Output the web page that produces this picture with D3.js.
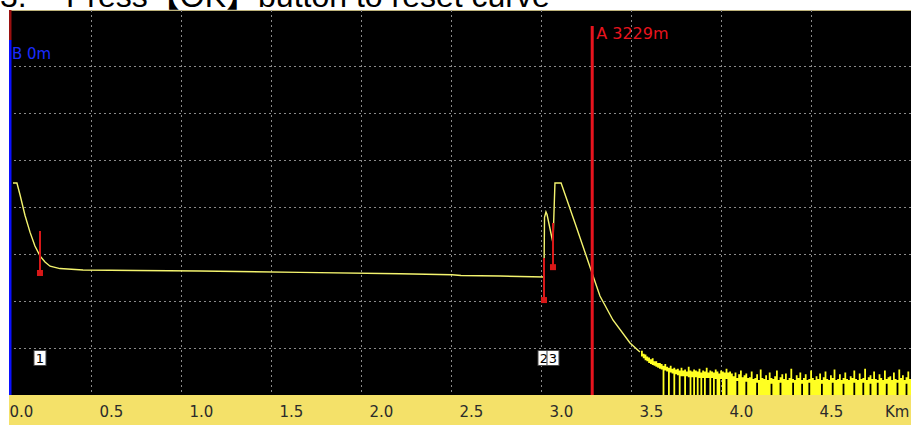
<!DOCTYPE html>
<html>
<head>
<meta charset="utf-8">
<script src="https://cdn.jsdelivr.net/npm/d3@7"></script>
<style>
  html, body { margin: 0; padding: 0; background: #ffffff; }
  svg { display: block; }
</style>
</head>
<body>
<div id="chart"></div>
<script>
// ---------- DATA ----------
const titleText = "Press【OK】button to reset curve";
const titleNum = "3.";
const xTickValues = [0.0, 0.5, 1.0, 1.5, 2.0, 2.5, 3.0, 3.5, 4.0, 4.5];
const xUnit = "Km";
const yGridValues = [5, 10, 15, 20, 25, 30, 35];

// main OTDR trace (distance km, level dB)
const traceKm = [0.011, 0.033, 0.05, 0.078, 0.106, 0.133, 0.161, 0.189, 0.217, 0.272, 0.40, 0.70, 1.05, 1.606, 2.161, 2.45, 2.50, 2.717, 2.961,
                 2.964, 2.972, 2.978, 3.011, 3.022, 3.056, 3.139, 3.228, 3.272, 3.344, 3.439, 3.494];
const traceDb = [22.55, 22.55, 21.3, 19.1, 17.3, 15.85, 14.8, 14.15, 13.7, 13.45, 13.3, 13.25, 13.19, 13.05, 12.9, 12.8, 12.72, 12.66, 12.55,
                 18.9, 19.47, 19.2, 16.17, 22.55, 22.55, 17.98, 12.98, 10.53, 7.98, 5.53, 4.57];

// noise floor: per-sample envelope (low / high, dB), from 3.50 km every 0.01 km
const noiseStartKm = 3.50;
const noiseStepKm = 0.01;
const noiseHi = [
  4.7, 4.4, 4.3, 4.1, 4.0, 3.8, 3.9, 3.6, 3.6, 3.4,
  3.4, 3.3, 3.1, 3.3, 3.0, 2.9, 3.1, 2.8, 2.9, 2.7,
  2.8, 2.6, 2.9, 2.6, 2.7, 2.5, 3.0, 2.6, 2.5, 2.7,
  2.6, 2.5, 2.8, 2.4, 2.6, 2.5, 2.9, 2.4, 2.6, 2.5,
  2.4, 2.7, 2.5, 2.3, 2.6, 2.5, 2.4, 2.8, 2.4, 2.5,
  2.3, 2.0, 2.4, 1.8, 2.2, 2.6, 1.9, 2.1, 2.3, 1.8,
  1.9, 2.5, 1.7, 1.8, 2.2, 1.6, 2.7, 1.8, 1.7, 2.1,
  1.6, 2.4, 1.8, 1.7, 2.0, 2.6, 1.6, 1.9, 2.2, 1.7,
  2.3, 1.6, 1.8, 2.8, 1.7, 1.6, 2.1, 1.8, 2.4, 1.6,
  1.8, 2.2, 1.6, 1.7, 2.6, 1.8, 1.6, 2.0, 1.7, 2.3,
  1.6, 1.9, 2.5, 1.7, 1.6, 2.1, 1.8, 2.7, 1.6, 1.7,
  2.2, 1.6, 1.8, 2.4, 1.7, 1.6, 2.0, 1.8, 2.6, 1.7,
  1.6, 2.3, 1.7, 1.8, 2.8, 1.6, 1.9, 2.1, 1.7, 2.5,
  1.7, 1.6, 2.2, 1.8, 1.6, 2.6, 1.7, 1.9, 2.0, 1.6,
  2.4, 1.7, 1.6, 2.7, 1.8, 2.1, 1.6, 1.9, 2.5, 1.7,
  1.8
];
const noiseLo = [
  4.1, 3.9, 3.7, 3.6, 3.4, 3.3, 3.2, 3.1, 3.0, 2.9,
  2.8, 2.7, 0.0, 2.6, 2.5, 0.0, 2.4, 2.3, 0.0, 2.2,
  2.1, 0.0, 2.0, 2.0, 0.0, 2.0, 1.9, 0.0, 1.9, 0.0,
  1.9, 0.0, 1.8, 0.0, 1.8, 0.0, 1.8, 1.8, 0.0, 1.8,
  0.0, 1.7, 0.0, 0.0, 1.7, 0.0, 0.0, 1.7, 0.0, 0.0,
  0.0, 0.0, 0.0, 1.5, 0.0, 0.0, 0.0, 0.0, 1.4, 0.0,
  0.0, 0.0, 0.0, 0.0, 1.3, 0.0, 0.0, 0.0, 0.0, 0.0,
  0.0, 0.0, 1.2, 0.0, 0.0, 0.0, 0.0, 1.3, 0.0, 0.0,
  0.0, 0.0, 0.0, 0.0, 1.3, 0.0, 0.0, 0.0, 0.0, 1.2,
  0.0, 0.0, 0.0, 1.3, 0.0, 0.0, 0.0, 0.0, 0.0, 0.0,
  1.2, 0.0, 0.0, 0.0, 0.0, 0.0, 1.3, 0.0, 0.0, 0.0,
  0.0, 0.0, 1.2, 0.0, 0.0, 0.0, 0.0, 0.0, 1.3, 0.0,
  0.0, 0.0, 0.0, 1.3, 0.0, 0.0, 0.0, 1.2, 0.0, 0.0,
  0.0, 1.3, 0.0, 0.0, 0.0, 0.0, 1.2, 0.0, 0.0, 0.0,
  0.0, 0.0, 1.3, 0.0, 0.0, 0.0, 0.0, 1.2, 0.0, 0.0,
  0.0
];

// events
const eventLabels = ["1", "2", "3"];
const eventKm = [0.161, 2.961, 3.011];
const eventTopDb = [17.45, 14.57, 18.3];
const eventBottomDb = [12.98, 10.1, 13.6];

// cursors
const cursorA = { label: "A 3229m", km: 3.229 };
const cursorB = { label: "B 0m", km: 0.0 };

// ---------- LAYOUT ----------
const W = 911, H = 425;
const plot = { left: 9, top: 10, right: 911, bottom: 395 };

const svg = d3.select("#chart").append("svg")
  .attr("width", W).attr("height", H)
  .style("font-family", "'DejaVu Sans', 'Liberation Sans', sans-serif");

const x = d3.scaleLinear().domain([0, 5]).range([11, 911]);
const y = d3.scaleLinear().domain([0, 35]).range([395, 66]);

// title (cut off at the top, as in the source)
svg.append("text")
  .attr("x", 0).attr("y", 7)
  .style("font-family", "'Liberation Sans', Arial, sans-serif")
  .style("font-size", "32px").attr("fill", "#000")
  .text(titleNum);
svg.append("text")
  .attr("x", 66).attr("y", 7)
  .style("font-family", "'Liberation Sans', Arial, 'Noto Sans CJK SC', sans-serif")
  .style("font-size", "32px").attr("fill", "#000")
  .text(titleText);

// plot background
svg.append("rect")
  .attr("x", plot.left).attr("y", plot.top)
  .attr("width", plot.right - plot.left).attr("height", plot.bottom - plot.top)
  .attr("fill", "#000");
svg.append("line")
  .attr("x1", plot.left).attr("x2", plot.right)
  .attr("y1", plot.top + 0.5).attr("y2", plot.top + 0.5)
  .attr("stroke", "#bdb27a").attr("stroke-width", 1);

// clip
svg.append("clipPath").attr("id", "clip")
  .append("rect")
  .attr("x", plot.left).attr("y", plot.top)
  .attr("width", plot.right - plot.left).attr("height", plot.bottom - plot.top);

const g = svg.append("g").attr("clip-path", "url(#clip)");

// grid
g.selectAll(".vgrid").data(xTickValues.filter(d => d > 0))
  .enter().append("line")
  .attr("x1", d => Math.round(x(d)) - 10 + 0.5).attr("x2", d => Math.round(x(d)) - 10 + 0.5)
  .attr("y1", plot.top).attr("y2", plot.bottom)
  .attr("stroke", "#8a8a8a").attr("stroke-width", 1)
  .attr("stroke-dasharray", "2,3");
g.selectAll(".hgrid").data(yGridValues)
  .enter().append("line")
  .attr("x1", plot.left).attr("x2", plot.right)
  .attr("y1", d => Math.round(y(d)) + 0.5).attr("y2", d => Math.round(y(d)) + 0.5)
  .attr("stroke", "#8a8a8a").attr("stroke-width", 1)
  .attr("stroke-dasharray", "2,3");

// trace
const line = d3.line().x(d => x(d[0])).y(d => y(d[1]));
const tracePts = traceKm.map((k, i) => [k, traceDb[i]]);
g.append("path")
  .datum(tracePts)
  .attr("d", line)
  .attr("fill", "none").attr("stroke", "#f4f46e").attr("stroke-width", 1.4);

// noise envelope
const noisePts = noiseHi.map((v, i) => ({ km: noiseStartKm + i * noiseStepKm, hi: v, lo: noiseLo[i] }));
const area = d3.area()
  .curve(d3.curveStepAfter)
  .x(d => x(d.km))
  .y0(d => y(d.lo))
  .y1(d => y(d.hi));
g.append("path")
  .datum(noisePts)
  .attr("d", area)
  .attr("fill", "#ffff22").attr("stroke", "none");

// event markers
eventKm.forEach((k, i) => {
  const ex = x(k);
  g.append("line")
    .attr("x1", ex).attr("x2", ex)
    .attr("y1", y(eventTopDb[i])).attr("y2", y(eventBottomDb[i]))
    .attr("stroke", "#d81818").attr("stroke-width", 2);
  g.append("rect")
    .attr("x", ex - 3).attr("y", y(eventBottomDb[i]) - 3)
    .attr("width", 6).attr("height", 6)
    .attr("fill", "#d81818");
  const bw = 12;
  g.append("rect")
    .attr("x", ex - bw / 2).attr("y", 350.5)
    .attr("width", bw).attr("height", 15)
    .attr("fill", "#ffffff").attr("stroke", "#444").attr("stroke-width", 1);
  g.append("text")
    .attr("x", ex).attr("y", 363)
    .attr("text-anchor", "middle")
    .style("font-size", "13px").attr("fill", "#000")
    .text(eventLabels[i]);
});

// cursor B (blue) with red top part
g.append("line")
  .attr("x1", x(cursorB.km) - 1).attr("x2", x(cursorB.km) - 1)
  .attr("y1", plot.top).attr("y2", 40)
  .attr("stroke", "#9a1010").attr("stroke-width", 3);
g.append("line")
  .attr("x1", x(cursorB.km) - 1).attr("x2", x(cursorB.km) - 1)
  .attr("y1", 40).attr("y2", plot.bottom)
  .attr("stroke", "#0a10ff").attr("stroke-width", 3);
g.append("text")
  .attr("x", x(cursorB.km) + 1).attr("y", 59)
  .style("font-size", "15px").attr("fill", "#1a2cff")
  .text(cursorB.label);

// cursor A (red)
g.append("line")
  .attr("x1", x(cursorA.km)).attr("x2", x(cursorA.km))
  .attr("y1", 26).attr("y2", plot.bottom)
  .attr("stroke", "#e8141e").attr("stroke-width", 3);
g.append("text")
  .attr("x", x(cursorA.km) + 4).attr("y", 39)
  .style("font-size", "16px").attr("fill", "#e8141e")
  .text(cursorA.label);

// x axis band
svg.append("rect")
  .attr("x", plot.left).attr("y", plot.bottom)
  .attr("width", W - plot.left).attr("height", H - plot.bottom)
  .attr("fill", "#f4e169");

const axis = d3.axisBottom(x)
  .tickValues(xTickValues)
  .tickFormat(d3.format(".1f"))
  .tickSize(0);
const ax = svg.append("g")
  .attr("transform", `translate(0,${plot.bottom})`)
  .call(axis);
ax.select(".domain").remove();
ax.selectAll("text")
  .attr("text-anchor", "start")
  .attr("dx", -2)
  .attr("y", 0).attr("dy", 22)
  .style("font-family", "'DejaVu Sans', sans-serif")
  .style("font-size", "15px")
  .attr("fill", "#2b2b2b");
svg.append("text")
  .attr("x", 885).attr("y", plot.bottom + 22)
  .style("font-family", "'DejaVu Sans', sans-serif")
  .style("font-size", "15px").attr("fill", "#2b2b2b")
  .text(xUnit);
</script>
</body>
</html>
